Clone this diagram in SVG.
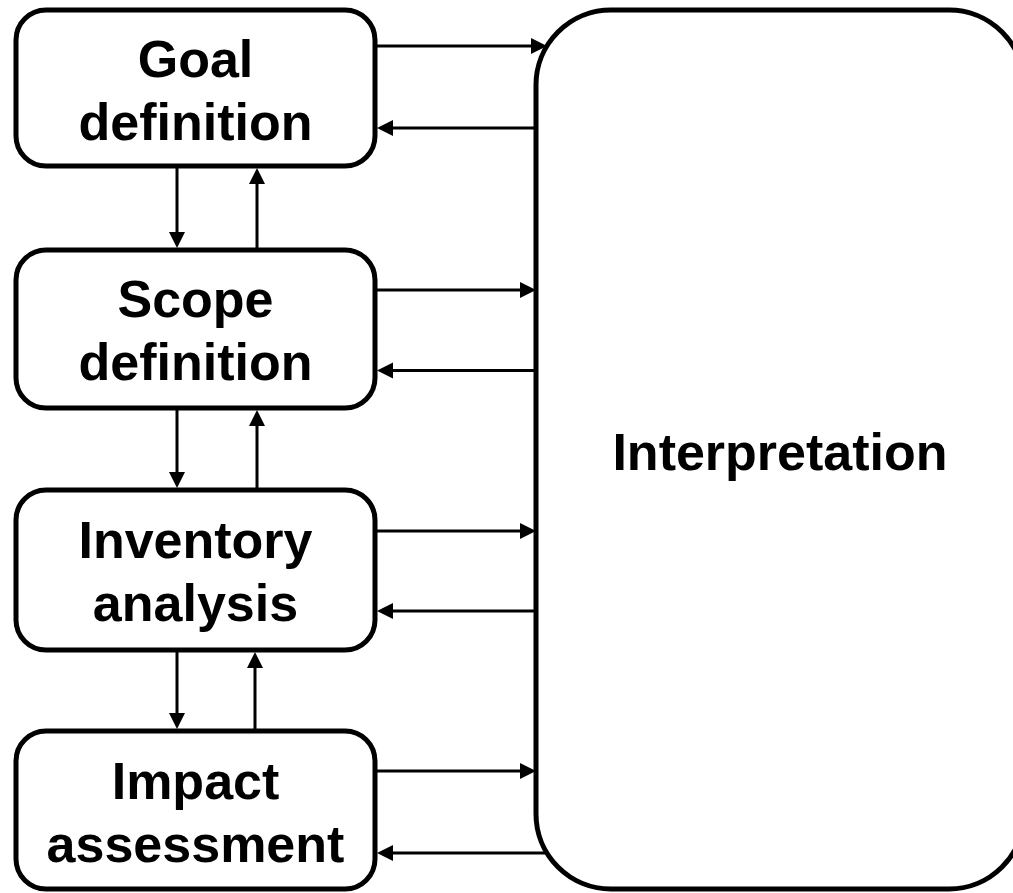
<svg xmlns="http://www.w3.org/2000/svg" width="1013" height="893" viewBox="0 0 1013 893">
<style>
.box{fill:#fff;stroke:#000;stroke-width:5}
.lbl{font-family:"Liberation Sans",Arial,sans-serif;font-weight:bold;font-size:52px;fill:#000;text-anchor:middle}
.c{stroke:#000;stroke-width:3;fill:none;marker-end:url(#ah)}
</style>
<defs>
<marker id="ah" markerUnits="userSpaceOnUse" markerWidth="17" markerHeight="17" refX="10" refY="8" orient="auto">
<path d="M0,0 L16,8 L0,16 z" fill="#000"/>
</marker>
</defs>
<rect width="1013" height="893" fill="#fff"/>
<g id="interpretation">
<rect class="box" x="536" y="10" width="488" height="879" rx="75" ry="75"/>
<text class="lbl" x="780" y="470">Interpretation</text>
</g>
<g id="goal">
<rect class="box" x="16" y="10" width="359" height="156" rx="30" ry="30"/>
<text class="lbl" x="195.5" y="77">Goal</text>
<text class="lbl" x="195.5" y="140">definition</text>
</g>
<g id="scope">
<rect class="box" x="16" y="250" width="359" height="158" rx="30" ry="30"/>
<text class="lbl" x="195.5" y="317">Scope</text>
<text class="lbl" x="195.5" y="380">definition</text>
</g>
<g id="inventory">
<rect class="box" x="16" y="490" width="359" height="160" rx="30" ry="30"/>
<text class="lbl" x="195.5" y="558">Inventory</text>
<text class="lbl" x="195.5" y="621">analysis</text>
</g>
<g id="impact">
<rect class="box" x="16" y="731" width="359" height="158" rx="30" ry="30"/>
<text class="lbl" x="195.5" y="799">Impact</text>
<text class="lbl" x="195.5" y="862">assessment</text>
</g>
<g id="connectors">
<line class="c" x1="377" y1="46" x2="541" y2="46"/>
<line class="c" x1="536" y1="128" x2="383" y2="128"/>
<line class="c" x1="377" y1="290" x2="530" y2="290"/>
<line class="c" x1="534" y1="370.5" x2="383" y2="370.5"/>
<line class="c" x1="377" y1="531" x2="530" y2="531"/>
<line class="c" x1="534" y1="611" x2="383" y2="611"/>
<line class="c" x1="377" y1="771" x2="530" y2="771"/>
<line class="c" x1="545" y1="853" x2="383" y2="853"/>
<line class="c" x1="177" y1="168" x2="177" y2="242"/>
<line class="c" x1="257" y1="248" x2="257" y2="174"/>
<line class="c" x1="177" y1="410" x2="177" y2="482"/>
<line class="c" x1="257" y1="488" x2="257" y2="416"/>
<line class="c" x1="177" y1="652" x2="177" y2="723"/>
<line class="c" x1="255" y1="729" x2="255" y2="658"/>
</g>
</svg>
